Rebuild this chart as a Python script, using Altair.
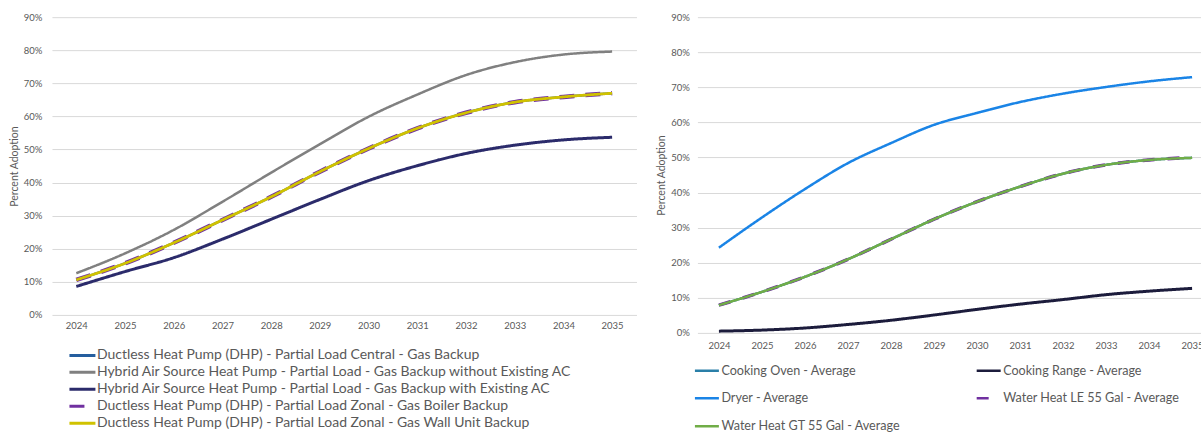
import altair as alt
import pandas as pd

# ---- data -------------------------------------------------------------
years = [2024, 2025, 2026, 2027, 2028, 2029, 2030, 2031, 2032, 2033, 2034, 2035]

# Space-heating measures (left panel), adoption as a fraction
hvac_names = [
    "Ductless Heat Pump (DHP) - Partial Load Central - Gas Backup",
    "Hybrid Air Source Heat Pump - Partial Load - Gas Backup without Existing AC",
    "Hybrid Air Source Heat Pump - Partial Load - Gas Backup with Existing AC",
    "Ductless Heat Pump (DHP) - Partial Load Zonal - Gas Boiler Backup",
    "Ductless Heat Pump (DHP) - Partial Load Zonal - Gas Wall Unit Backup",
]
dhp_central = [0.106, 0.156, 0.218, 0.287, 0.357, 0.433, 0.503, 0.564, 0.611, 0.643, 0.659, 0.670]
hybrid_no_ac = [0.126, 0.186, 0.257, 0.342, 0.430, 0.516, 0.599, 0.666, 0.725, 0.764, 0.787, 0.796]
hybrid_ac = [0.086, 0.131, 0.173, 0.229, 0.289, 0.349, 0.406, 0.451, 0.488, 0.513, 0.529, 0.537]
dhp_boiler = [0.106, 0.156, 0.218, 0.287, 0.357, 0.433, 0.503, 0.564, 0.611, 0.643, 0.659, 0.670]
dhp_wall = [0.106, 0.156, 0.218, 0.287, 0.357, 0.433, 0.503, 0.564, 0.611, 0.643, 0.659, 0.670]
hvac_values = [dhp_central, hybrid_no_ac, hybrid_ac, dhp_boiler, dhp_wall]
hvac_colors = ["#255E9E", "#808080", "#2B2B6B", "#7030A0", "#D0C200"]
hvac_dashes = [[1, 0], [1, 0], [1, 0], [15, 11], [1, 0]]
hvac_widths = [2.5, 2.5, 3, 4.5, 2.8]
hvac_draw_order = [0, 1, 2, 3, 4]

# Appliance measures (right panel)
appl_names = [
    "Cooking Oven - Average",
    "Cooking Range - Average",
    "Dryer - Average",
    "Water Heat LE 55 Gal - Average",
    "Water Heat GT 55 Gal - Average",
]
cooking_oven = [0.079, 0.117, 0.160, 0.210, 0.267, 0.324, 0.374, 0.417, 0.454, 0.479, 0.493, 0.499]
cooking_range = [0.005, 0.008, 0.014, 0.024, 0.036, 0.051, 0.067, 0.082, 0.095, 0.109, 0.119, 0.127]
dryer = [0.243, 0.329, 0.410, 0.484, 0.541, 0.593, 0.627, 0.658, 0.682, 0.701, 0.717, 0.729]
water_le = [0.079, 0.117, 0.160, 0.210, 0.267, 0.324, 0.374, 0.417, 0.454, 0.479, 0.493, 0.500]
water_gt = [0.079, 0.117, 0.160, 0.210, 0.267, 0.324, 0.374, 0.417, 0.454, 0.479, 0.493, 0.499]
appl_values = [cooking_oven, cooking_range, dryer, water_le, water_gt]
appl_colors = ["#2A7FA8", "#1C1C3C", "#1A84E6", "#7030A0", "#70AD47"]
appl_dashes = [[1, 0], [1, 0], [1, 0], [12, 13], [1, 0]]
appl_widths = [2.5, 3, 2.5, 3.5, 2.5]
appl_draw_order = [0, 1, 2, 3, 4]

pct_ticks = [0, 0.1, 0.2, 0.3, 0.4, 0.5, 0.6, 0.7, 0.8, 0.9]

FONT = "Lato"
GREY_TEXT = "#595959"
GRID = "#D9D9D9"


def long_table(names, values):
    rows = []
    for name, vals in zip(names, values):
        for yr, v in zip(years, vals):
            rows.append({"year": yr, "series": name, "adoption": v})
    return pd.DataFrame(rows)


def panel(names, values, colors, dashes, widths, order, width, height,
          x_domain, x_label_pad, y_label_pad, legend):
    df = long_table(names, values)
    x = alt.X(
        "year:Q",
        scale=alt.Scale(domain=x_domain, nice=False, zero=False),
        axis=alt.Axis(values=years, format="d", grid=False, ticks=False,
                      domain=False, labelPadding=x_label_pad, title=None,
                      labelFontSize=9.5, labelColor=GREY_TEXT, labelFont=FONT,
                      labelFlush=False, labelOverlap=False),
    )
    y = alt.Y(
        "adoption:Q",
        scale=alt.Scale(domain=[0, 0.9], nice=False),
        axis=alt.Axis(values=pct_ticks, format=".0%", grid=True, gridColor=GRID,
                      gridWidth=1, ticks=False, domain=False,
                      labelPadding=y_label_pad, labelFontSize=9.5,
                      labelColor=GREY_TEXT, labelFont=FONT,
                      title="Percent Adoption", titleFontSize=10.5,
                      titleFontWeight="normal", titleColor=GREY_TEXT,
                      titleFont=FONT, titlePadding=4),
    )
    color = alt.Color("series:N", scale=alt.Scale(domain=names, range=colors),
                      legend=legend)
    dash = alt.StrokeDash("series:N", scale=alt.Scale(domain=names, range=dashes),
                          legend=legend)
    layers = []
    for i in order:
        layers.append(
            alt.Chart(df)
            .transform_filter(alt.datum.series == names[i])
            .mark_line(strokeWidth=widths[i], interpolate="monotone",
                       strokeCap="butt")
            .encode(x=x, y=y, color=color, strokeDash=dash)
        )
    return alt.layer(*layers).properties(width=width, height=height)


left_legend = alt.Legend(
    orient="none", legendX=16, legendY=330, direction="vertical", title=None,
    symbolType="stroke", symbolSize=676, symbolStrokeWidth=3,
    labelFontSize=14.0, labelColor=GREY_TEXT, labelFont=FONT, labelOffset=0,
    labelLimit=0, clipHeight=17, rowPadding=0,
)
right_legend = alt.Legend(
    orient="none", legendX=-4, legendY=347, direction="horizontal", columns=2,
    title=None, symbolType="stroke", symbolSize=576, symbolStrokeWidth=2.5,
    labelFontSize=12.6, labelColor=GREY_TEXT, labelFont=FONT, labelOffset=1,
    labelLimit=0, clipHeight=13, rowPadding=14, columnPadding=74,
)

left = panel(hvac_names, hvac_values, hvac_colors, hvac_dashes, hvac_widths,
             hvac_draw_order, 585, 298, [2023.5, 2035.5], 6, 10, left_legend)
right = panel(appl_names, appl_values, appl_colors, appl_dashes, appl_widths,
              appl_draw_order, 504, 316, [2023.5, 2035.207], 8, 8, right_legend)

chart = (
    alt.hconcat(left, right, spacing=61, bounds="flush")
    .resolve_scale(color="independent", strokeDash="independent",
                   x="independent", y="independent")
    .properties(
        padding={"left": 9, "top": 12, "right": -3, "bottom": 0},
        background="white",
    )
    .configure_view(stroke=None)
)

chart.save("out.html", embed_options={"renderer": "svg", "actions": False})
